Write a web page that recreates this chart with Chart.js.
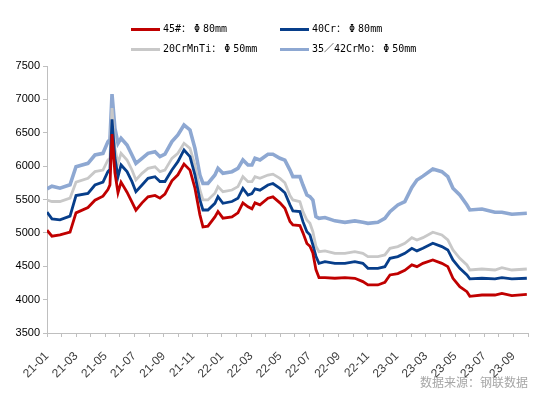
<!DOCTYPE html>
<html>
<head>
<meta charset="utf-8">
<script src="https://cdn.jsdelivr.net/npm/chart.js@4.4.0/dist/chart.umd.min.js"></script>
<style>
    html, body { margin: 0; padding: 0; background: #fff; }
    #wrap { position: relative; width: 554px; height: 396px; }
    .legLine { position: absolute; width: 29px; height: 3px; }
    .legText { position: absolute; font: 10px "DejaVu Sans Mono", "Noto Sans CJK SC", monospace; color: #000; line-height: 14px; white-space: nowrap; }
    .legText .phi { display: inline-block; width: 12px; text-align: center; }
    #source { position: absolute; right: 26px; top: 373px; font: 12px "Noto Sans CJK SC", sans-serif; color: #a6a6a6; white-space: nowrap; }
</style>
</head>
<body>
<div id="wrap">
    <canvas id="steelChart" width="554" height="396"></canvas>
    <div id="legend"></div>
    <div id="source">数据来源：钢联数据</div>
</div>
<script>
// month labels for the x axis (one tick per month, label every 2nd)
const monthLabels = ['21-01','21-02','21-03','21-04','21-05','21-06','21-07','21-08','21-09','21-10','21-11','21-12',
    '22-01','22-02','22-03','22-04','22-05','22-06','22-07','22-08','22-09','22-10','22-11','22-12',
    '23-01','23-02','23-03','23-04','23-05','23-06','23-07','23-08','23-09','23-10'];

// sample positions, in months since 21-01
const samplePos = [0.00,0.34,0.89,1.58,1.99,2.81,3.29,3.84,4.18,4.32,
    4.46,4.66,4.87,5.08,5.49,5.83,6.10,6.52,6.93,7.41,
    7.75,8.09,8.57,8.98,9.40,9.81,10.15,10.49,10.70,11.04,
    11.52,11.73,12.07,12.69,13.10,13.44,13.79,14.06,14.27,14.61,
    15.16,15.50,15.98,16.32,16.67,16.87,17.35,17.56,17.83,18.04,
    18.24,18.45,18.66,19.07,19.75,20.44,21.12,21.67,22.02,22.70,
    23.18,23.53,24.07,24.55,25.03,25.38,25.79,26.47,27.09,27.50,
    27.85,28.32,28.81,29.01,29.84,30.73,31.21,31.89,32.92];

const price45 = [5040,4950,4970,5010,5300,5380,5490,5550,5650,5720,
    6480,5900,5600,5760,5610,5460,5340,5450,5540,5560,
    5520,5580,5780,5870,6030,5940,5670,5270,5090,5100,
    5240,5320,5220,5240,5300,5450,5390,5360,5450,5420,
    5520,5540,5450,5370,5170,5120,5110,5000,4840,4800,
    4700,4450,4330,4330,4320,4330,4320,4270,4220,4220,
    4260,4370,4390,4440,4520,4494,4544,4594,4544,4494,
    4320,4194,4119,4050,4069,4069,4094,4060,4080];

const price40Cr = [5310,5210,5195,5250,5560,5590,5717,5760,5917,5950,
    6700,6122,5842,6017,5917,5767,5617,5717,5817,5842,
    5770,5770,5942,6067,6242,6142,5867,5493,5343,5343,
    5443,5543,5443,5470,5518,5668,5567,5590,5660,5640,
    5717,5740,5667,5600,5420,5330,5318,5168,5018,4970,
    4819,4650,4544,4570,4544,4544,4570,4544,4469,4469,
    4494,4619,4644,4694,4769,4730,4769,4844,4794,4744,
    4594,4469,4369,4310,4320,4310,4330,4310,4320];

const price20CrMnTi = [5493,5470,5470,5520,5760,5817,5917,5940,6092,6120,
    6870,6267,6042,6192,6092,5942,5792,5892,5967,5990,
    5917,5940,6117,6192,6342,6267,6017,5642,5493,5493,
    5593,5693,5617,5642,5693,5842,5767,5767,5842,5817,
    5867,5880,5817,5750,5560,5493,5468,5318,5193,5143,
    5018,4800,4719,4730,4694,4694,4719,4694,4644,4644,
    4669,4769,4794,4844,4929,4894,4929,5009,4969,4894,
    4744,4619,4519,4444,4459,4444,4480,4444,4459];

const price42CrMo = [5660,5700,5670,5720,5990,6042,6167,6192,6367,6400,
    7080,6567,6342,6417,6317,6167,6042,6117,6192,6217,
    6142,6180,6367,6467,6616,6542,6267,5867,5742,5742,
    5867,5967,5892,5917,5967,6092,6017,6017,6117,6092,
    6177,6177,6117,6090,5940,5842,5842,5717,5567,5543,
    5493,5243,5218,5230,5180,5158,5180,5158,5143,5158,
    5218,5318,5418,5468,5680,5792,5850,5957,5917,5842,
    5668,5567,5418,5343,5358,5308,5308,5280,5293];

// legend text split around Φ so it can be set full width like the original
const seriesNames = ['45#：Φ80mm', '40Cr：Φ80mm', '20CrMnTi：Φ50mm', '35／42CrMo：Φ50mm'];
const seriesColors = ['#c00000', '#073e8a', '#c8c8c8', '#8ea8d2'];
const seriesWidths = [2.8, 2.8, 2.8, 3.6];
const seriesValues = [price45, price40Cr, price20CrMnTi, price42CrMo];

// html legend, two columns
const legendPos = [[131, 29], [280, 29], [131, 49], [280, 49]];
const legendEl = document.getElementById('legend');
seriesNames.forEach((name, i) => {
    const line = document.createElement('div');
    line.className = 'legLine';
    line.style.left = legendPos[i][0] + 'px';
    line.style.top = (legendPos[i][1] - 1.5) + 'px';
    line.style.background = seriesColors[i];
    legendEl.appendChild(line);
    const txt = document.createElement('div');
    txt.className = 'legText';
    txt.style.left = (legendPos[i][0] + 32) + 'px';
    txt.style.top = (legendPos[i][1] - 7) + 'px';
    const parts = name.split('Φ');
    txt.appendChild(document.createTextNode(parts[0]));
    const phi = document.createElement('span');
    phi.className = 'phi';
    phi.textContent = 'Φ';
    txt.appendChild(phi);
    txt.appendChild(document.createTextNode(parts[1]));
    legendEl.appendChild(txt);
});

Chart.defaults.font.family = "'Liberation Sans', Arial, sans-serif";
Chart.defaults.font.size = 11;

const ctx = document.getElementById('steelChart').getContext('2d');
const steelChart = new Chart(ctx, {
    type: 'line',
    data: {
        datasets: seriesValues.map((vals, i) => ({
            label: seriesNames[i],
            data: vals.map((v, k) => ({ x: samplePos[k], y: v })),
            borderColor: seriesColors[i],
            borderWidth: seriesWidths[i],
            pointRadius: 0,
            tension: 0,
            fill: false
        }))
    },
    options: {
        responsive: false,
        animation: false,
        layout: { padding: { left: 0, top: 66, right: 26, bottom: 0 } },
        plugins: {
            legend: { display: false },
            tooltip: { enabled: false }
        },
        scales: {
            x: {
                type: 'linear',
                min: 0,
                max: 33,
                grid: { display: true, drawOnChartArea: false, drawTicks: true, tickLength: 4, color: '#bfbfbf' },
                border: { display: true, color: '#bfbfbf' },
                ticks: {
                    stepSize: 1,
                    maxTicksLimit: 40,
                    autoSkip: false,
                    maxRotation: 45,
                    minRotation: 45,
                    padding: 12,
                    color: '#404040',
                    font: { size: 12 },
                    callback: (value) => {
                        const m = Math.round(value);
                        return m % 2 === 0 ? monthLabels[m] : '';
                    }
                },
                afterFit: (scale) => { scale.height = 63; }
            },
            y: {
                min: 3500,
                max: 7500,
                grid: { display: true, drawOnChartArea: false, drawTicks: true, tickLength: 4, color: '#bfbfbf' },
                border: { display: true, color: '#bfbfbf' },
                ticks: {
                    stepSize: 500,
                    color: '#000',
                    padding: 3,
                    font: { size: 11 },
                    callback: (value) => String(value)
                },
                afterFit: (scale) => { scale.width = 47; }
            }
        }
    }
});
</script>
</body>
</html>
